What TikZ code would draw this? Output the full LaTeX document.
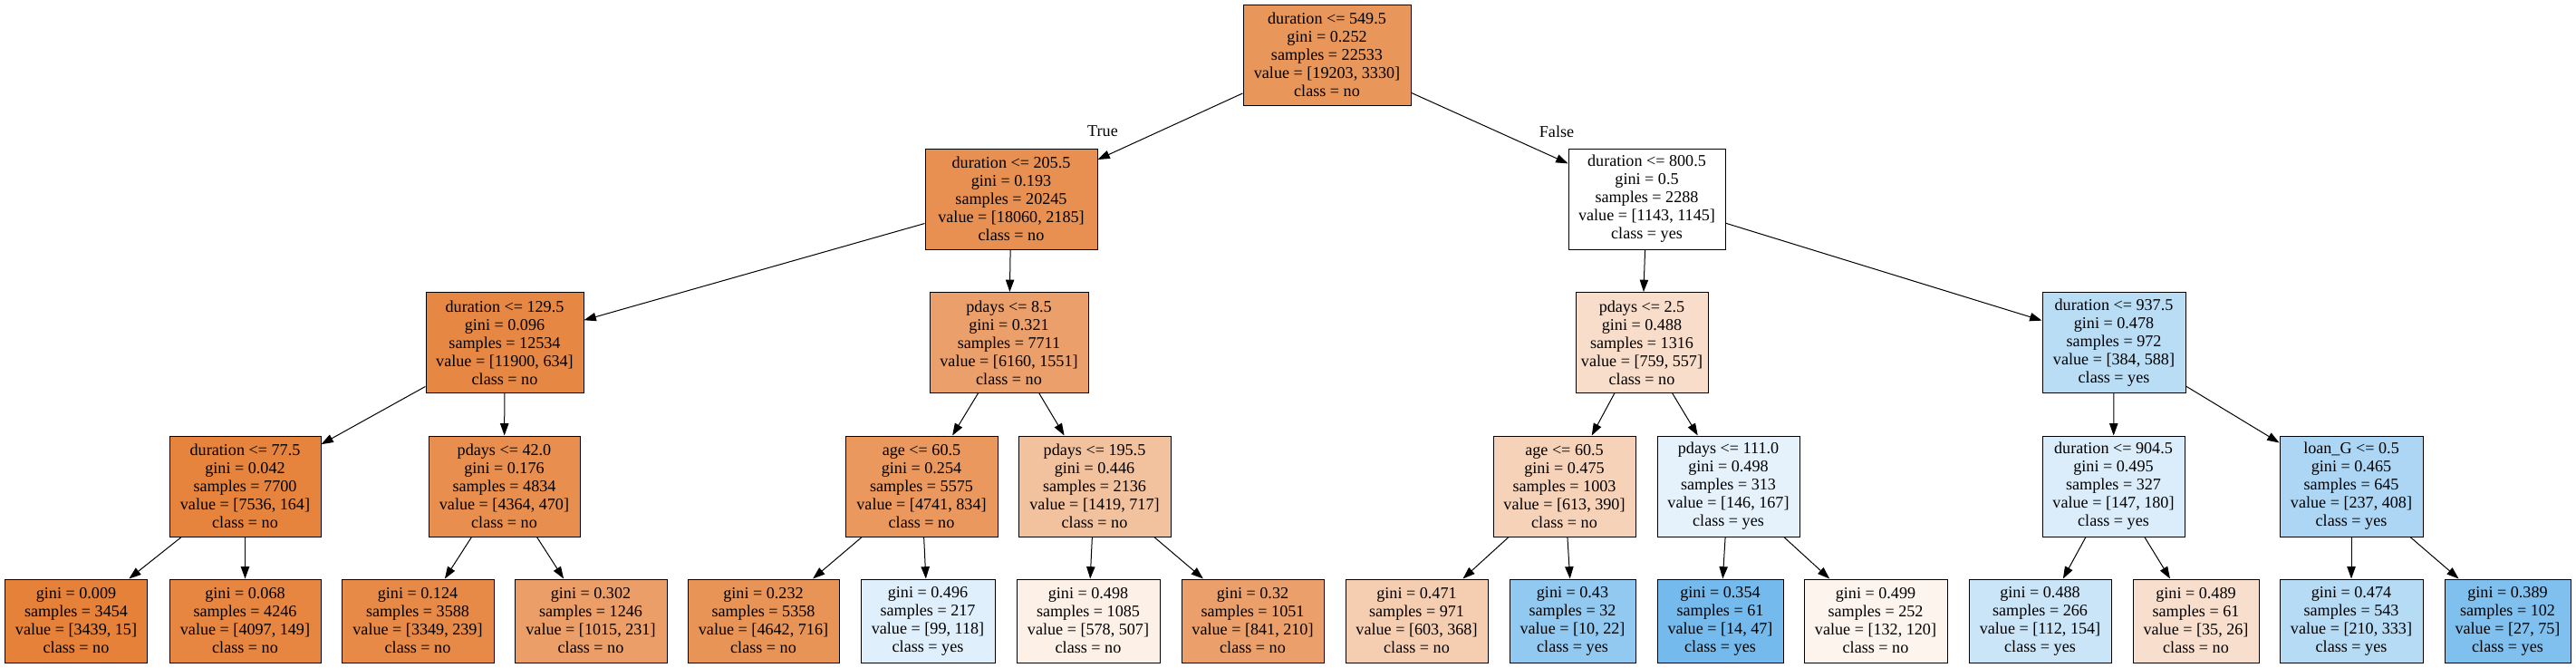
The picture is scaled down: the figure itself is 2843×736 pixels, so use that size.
\documentclass[tikz,border=0pt]{standalone}
\usepackage{fontspec}
\setmainfont{Liberation Serif}
\usetikzlibrary{arrows.meta}
\definecolor{clsno}{RGB}{229,129,57}
\definecolor{clsyes}{RGB}{57,157,229}
\tikzset{every node/.style={font=\fontsize{13.6}{15}\selectfont, align=center, inner sep=0pt},
  boxw/.style={minimum width=#1*0.75pt},
  split/.style={draw=black, line width=0.75pt, rectangle, minimum height=83.25pt},
  leaf/.style={draw=black, line width=0.75pt, rectangle, minimum height=69pt},
  branch/.style={black, line width=0.75pt, -{Triangle[length=10pt,width=7pt]}}}
\begin{document}
\begin{tikzpicture}[x=0.75pt,y=-0.75pt]
   \useasboundingbox (0,0) rectangle (2843,736);
   % root
   \node[split, boxw=185, fill=clsno!83] (n0) at (1464.5,60.5) {duration <= 549.5\\gini = 0.252\\samples = 22533\\value = [19203, 3330]\\class = no};
   % depth 1
   \node[split, boxw=190, fill=clsno!88] (n1) at (1116,219.5) {duration <= 205.5\\gini = 0.193\\samples = 20245\\value = [18060, 2185]\\class = no};
   \node[split, boxw=173, fill=white] (n2) at (1817.5,219.5) {duration <= 800.5\\gini = 0.5\\samples = 2288\\value = [1143, 1145]\\class = yes};
   % depth 2
   \node[split, boxw=174, fill=clsno!95] (n3) at (557,378) {duration <= 129.5\\gini = 0.096\\samples = 12534\\value = [11900, 634]\\class = no};
   \node[split, boxw=175, fill=clsno!75] (n4) at (1113.5,378) {pdays <= 8.5\\gini = 0.321\\samples = 7711\\value = [6160, 1551]\\class = no};
   \node[split, boxw=146, fill=clsno!27] (n5) at (1812,378) {pdays <= 2.5\\gini = 0.488\\samples = 1316\\value = [759, 557]\\class = no};
   \node[split, boxw=158, fill=clsyes!35] (n6) at (2333,378) {duration <= 937.5\\gini = 0.478\\samples = 972\\value = [384, 588]\\class = yes};
   % depth 3
   \node[split, boxw=167, fill=clsno!98] (n7) at (270.5,536.5) {duration <= 77.5\\gini = 0.042\\samples = 7700\\value = [7536, 164]\\class = no};
   \node[split, boxw=167, fill=clsno!89] (n8) at (556.5,536.5) {pdays <= 42.0\\gini = 0.176\\samples = 4834\\value = [4364, 470]\\class = no};
   \node[split, boxw=168, fill=clsno!82] (n9) at (1017,536.5) {age <= 60.5\\gini = 0.254\\samples = 5575\\value = [4741, 834]\\class = no};
   \node[split, boxw=168, fill=clsno!49] (n10) at (1208,536.5) {pdays <= 195.5\\gini = 0.446\\samples = 2136\\value = [1419, 717]\\class = no};
   \node[split, boxw=157, fill=clsno!36] (n11) at (1726.5,536.5) {age <= 60.5\\gini = 0.475\\samples = 1003\\value = [613, 390]\\class = no};
   \node[split, boxw=157, fill=clsyes!13] (n12) at (1907.5,536.5) {pdays <= 111.0\\gini = 0.498\\samples = 313\\value = [146, 167]\\class = yes};
   \node[split, boxw=157, fill=clsyes!18] (n13) at (2332.5,536.5) {duration <= 904.5\\gini = 0.495\\samples = 327\\value = [147, 180]\\class = yes};
   \node[split, boxw=158, fill=clsyes!42] (n14) at (2595,536.5) {loan\_G <= 0.5\\gini = 0.465\\samples = 645\\value = [237, 408]\\class = yes};
   % leaves
   \node[leaf, boxw=157, fill=clsno!100] (n15) at (84,685) {gini = 0.009\\samples = 3454\\value = [3439, 15]\\class = no};
   \node[leaf, boxw=167, fill=clsno!96] (n16) at (270.5,685) {gini = 0.068\\samples = 4246\\value = [4097, 149]\\class = no};
   \node[leaf, boxw=168, fill=clsno!93] (n17) at (461,685) {gini = 0.124\\samples = 3588\\value = [3349, 239]\\class = no};
   \node[leaf, boxw=168, fill=clsno!77] (n18) at (652,685) {gini = 0.302\\samples = 1246\\value = [1015, 231]\\class = no};
   \node[leaf, boxw=167, fill=clsno!85] (n19) at (842.5,685) {gini = 0.232\\samples = 5358\\value = [4642, 716]\\class = no};
   \node[leaf, boxw=148, fill=clsyes!16] (n20) at (1024,685) {gini = 0.496\\samples = 217\\value = [99, 118]\\class = yes};
   \node[leaf, boxw=158, fill=clsno!12] (n21) at (1201,685) {gini = 0.498\\samples = 1085\\value = [578, 507]\\class = no};
   \node[leaf, boxw=157, fill=clsno!75] (n22) at (1382.5,685) {gini = 0.32\\samples = 1051\\value = [841, 210]\\class = no};
   \node[leaf, boxw=157, fill=clsno!39] (n23) at (1563.5,685) {gini = 0.471\\samples = 971\\value = [603, 368]\\class = no};
   \node[leaf, boxw=139, fill=clsyes!55] (n24) at (1735.5,685) {gini = 0.43\\samples = 32\\value = [10, 22]\\class = yes};
   \node[leaf, boxw=139, fill=clsyes!70] (n25) at (1898.5,685) {gini = 0.354\\samples = 61\\value = [14, 47]\\class = yes};
   \node[leaf, boxw=158, fill=clsno!9] (n26) at (2070,685) {gini = 0.499\\samples = 252\\value = [132, 120]\\class = no};
   \node[leaf, boxw=157, fill=clsyes!27] (n27) at (2251.5,685) {gini = 0.488\\samples = 266\\value = [112, 154]\\class = yes};
   \node[leaf, boxw=139, fill=clsno!26] (n28) at (2423.5,685) {gini = 0.489\\samples = 61\\value = [35, 26]\\class = no};
   \node[leaf, boxw=158, fill=clsyes!37] (n29) at (2595,685) {gini = 0.474\\samples = 543\\value = [210, 333]\\class = yes};
   \node[leaf, boxw=139, fill=clsyes!64] (n30) at (2767.5,685) {gini = 0.389\\samples = 102\\value = [27, 75]\\class = yes};
   % branches
   \draw[branch] (n0) -- (n1);
   \draw[branch] (n0) -- (n2);
   \draw[branch] (n1) -- (n3);
   \draw[branch] (n1) -- (n4);
   \draw[branch] (n2) -- (n5);
   \draw[branch] (n2) -- (n6);
   \draw[branch] (n3) -- (n7);
   \draw[branch] (n3) -- (n8);
   \draw[branch] (n4) -- (n9);
   \draw[branch] (n4) -- (n10);
   \draw[branch] (n5) -- (n11);
   \draw[branch] (n5) -- (n12);
   \draw[branch] (n6) -- (n13);
   \draw[branch] (n6) -- (n14);
   \draw[branch] (n7) -- (n15);
   \draw[branch] (n7) -- (n16);
   \draw[branch] (n8) -- (n17);
   \draw[branch] (n8) -- (n18);
   \draw[branch] (n9) -- (n19);
   \draw[branch] (n9) -- (n20);
   \draw[branch] (n10) -- (n21);
   \draw[branch] (n10) -- (n22);
   \draw[branch] (n11) -- (n23);
   \draw[branch] (n11) -- (n24);
   \draw[branch] (n12) -- (n25);
   \draw[branch] (n12) -- (n26);
   \draw[branch] (n13) -- (n27);
   \draw[branch] (n13) -- (n28);
   \draw[branch] (n14) -- (n29);
   \draw[branch] (n14) -- (n30);
   % edge labels
   \node (lbtrue) at (1217,145) {True};
   \node (lbfalse) at (1718,145) {False};
\end{tikzpicture}
\end{document}
